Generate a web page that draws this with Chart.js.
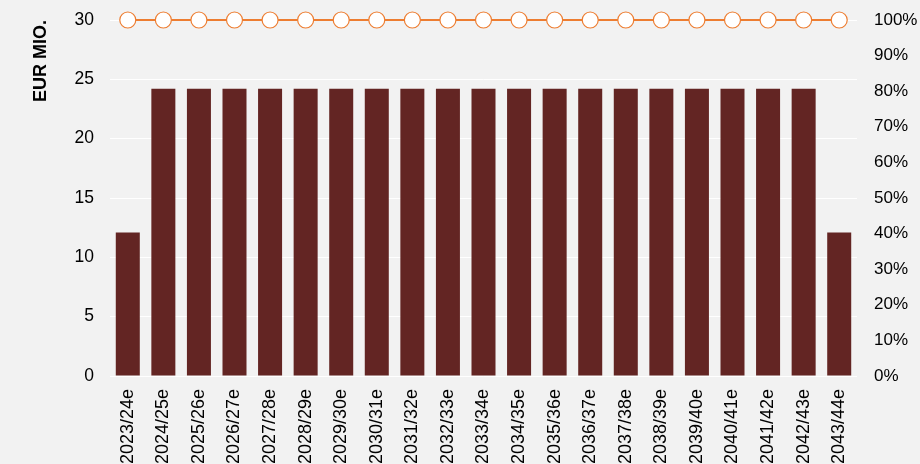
<!DOCTYPE html>
<html>
<head>
<meta charset="utf-8">
<script src="https://cdn.jsdelivr.net/npm/chart.js@4/dist/chart.umd.min.js"></script>
<style>
  html, body { margin: 0; padding: 0; background: #f2f2f2; overflow: hidden; }
  #wrap { width: 920px; height: 464px; }
</style>
</head>
<body>
<div id="wrap"><canvas id="barChart" width="920" height="464"></canvas></div>
<script>
var years = ["2023/24e", "2024/25e", "2025/26e", "2026/27e", "2027/28e", "2028/29e", "2029/30e",
    "2030/31e", "2031/32e", "2032/33e", "2033/34e", "2034/35e", "2035/36e", "2036/37e",
    "2037/38e", "2038/39e", "2039/40e", "2040/41e", "2041/42e", "2042/43e", "2043/44e"];
var amounts = [12.1, 24.2, 24.2, 24.2, 24.2, 24.2, 24.2, 24.2, 24.2, 24.2, 24.2,
    24.2, 24.2, 24.2, 24.2, 24.2, 24.2, 24.2, 24.2, 24.2, 12.1];
var shares = [100, 100, 100, 100, 100, 100, 100, 100, 100, 100, 100,
    100, 100, 100, 100, 100, 100, 100, 100, 100, 100];
var leftTicks = [0, 5, 10, 15, 20, 25, 30];
var rightTicks = [0, 10, 20, 30, 40, 50, 60, 70, 80, 90, 100];

Chart.defaults.font.family = "'Liberation Sans', Arial, sans-serif";
Chart.defaults.color = "#000";

var barData = {
    labels: years,
    datasets: [
        {
            type: 'line',
            label: "Anteil",
            data: shares,
            yAxisID: 'y1',
            borderColor: "#ed7d31",
            borderWidth: 2,
            pointRadius: 8,
            pointHoverRadius: 8,
            pointBackgroundColor: "#ffffff",
            pointBorderColor: "#ed7d31",
            pointBorderWidth: 1.2,
            clip: false,
            order: 0
        },
        {
            type: 'bar',
            label: "EUR Mio.",
            data: amounts,
            yAxisID: 'y',
            backgroundColor: "#632523",
            categoryPercentage: 1,
            barPercentage: 0.675,
            order: 1
        }
    ]
};

// pin the plot area top to match the reference
function pinTop(s) { s.paddingTop = 0; }

var barOptions = {
    responsive: false,
    animation: false,
    layout: { padding: { top: 20, left: 0, right: 0, bottom: 0 } },
    plugins: { legend: { display: false }, tooltip: { enabled: false } },
    scales: {
        x: {
            grid: { display: false, drawTicks: false },
            border: { display: false },
            ticks: { font: { size: 18 }, maxRotation: 90, minRotation: 90, padding: 13, autoSkip: false },
            afterFit: function (s) { s.height = 88; s.paddingLeft = 0; s.paddingRight = 0; }
        },
        y: {
            position: 'left',
            min: 0, max: 30,
            afterBuildTicks: function (s) { s.ticks = leftTicks.map(function (v) { return { value: v }; }); },
            grid: { color: "#ffffff", lineWidth: 1, drawTicks: false },
            border: { display: false },
            ticks: { font: { size: 17.5 }, padding: 16 },
            title: {
                display: true, text: "EUR MIO.", align: 'end',
                font: { size: 18, weight: 'bold' },
                padding: { top: 30, bottom: 0 }
            },
            afterFit: function (s) { s.width = 110; s.paddingTop = 0; s.paddingBottom = 0; }
        },
        y1: {
            position: 'right',
            min: 0, max: 100,
            afterBuildTicks: function (s) { s.ticks = rightTicks.map(function (v) { return { value: v }; }); },
            grid: { display: false, drawTicks: false },
            border: { display: false },
            ticks: { font: { size: 17 }, padding: 17, callback: function (v) { return v + "%"; } },
            afterFit: function (s) { s.width = 63; s.paddingTop = 0; s.paddingBottom = 0; }
        }
    }
};

var ctx = document.getElementById("barChart").getContext("2d");
new Chart(ctx, { data: barData, options: barOptions });
</script>
</body>
</html>
